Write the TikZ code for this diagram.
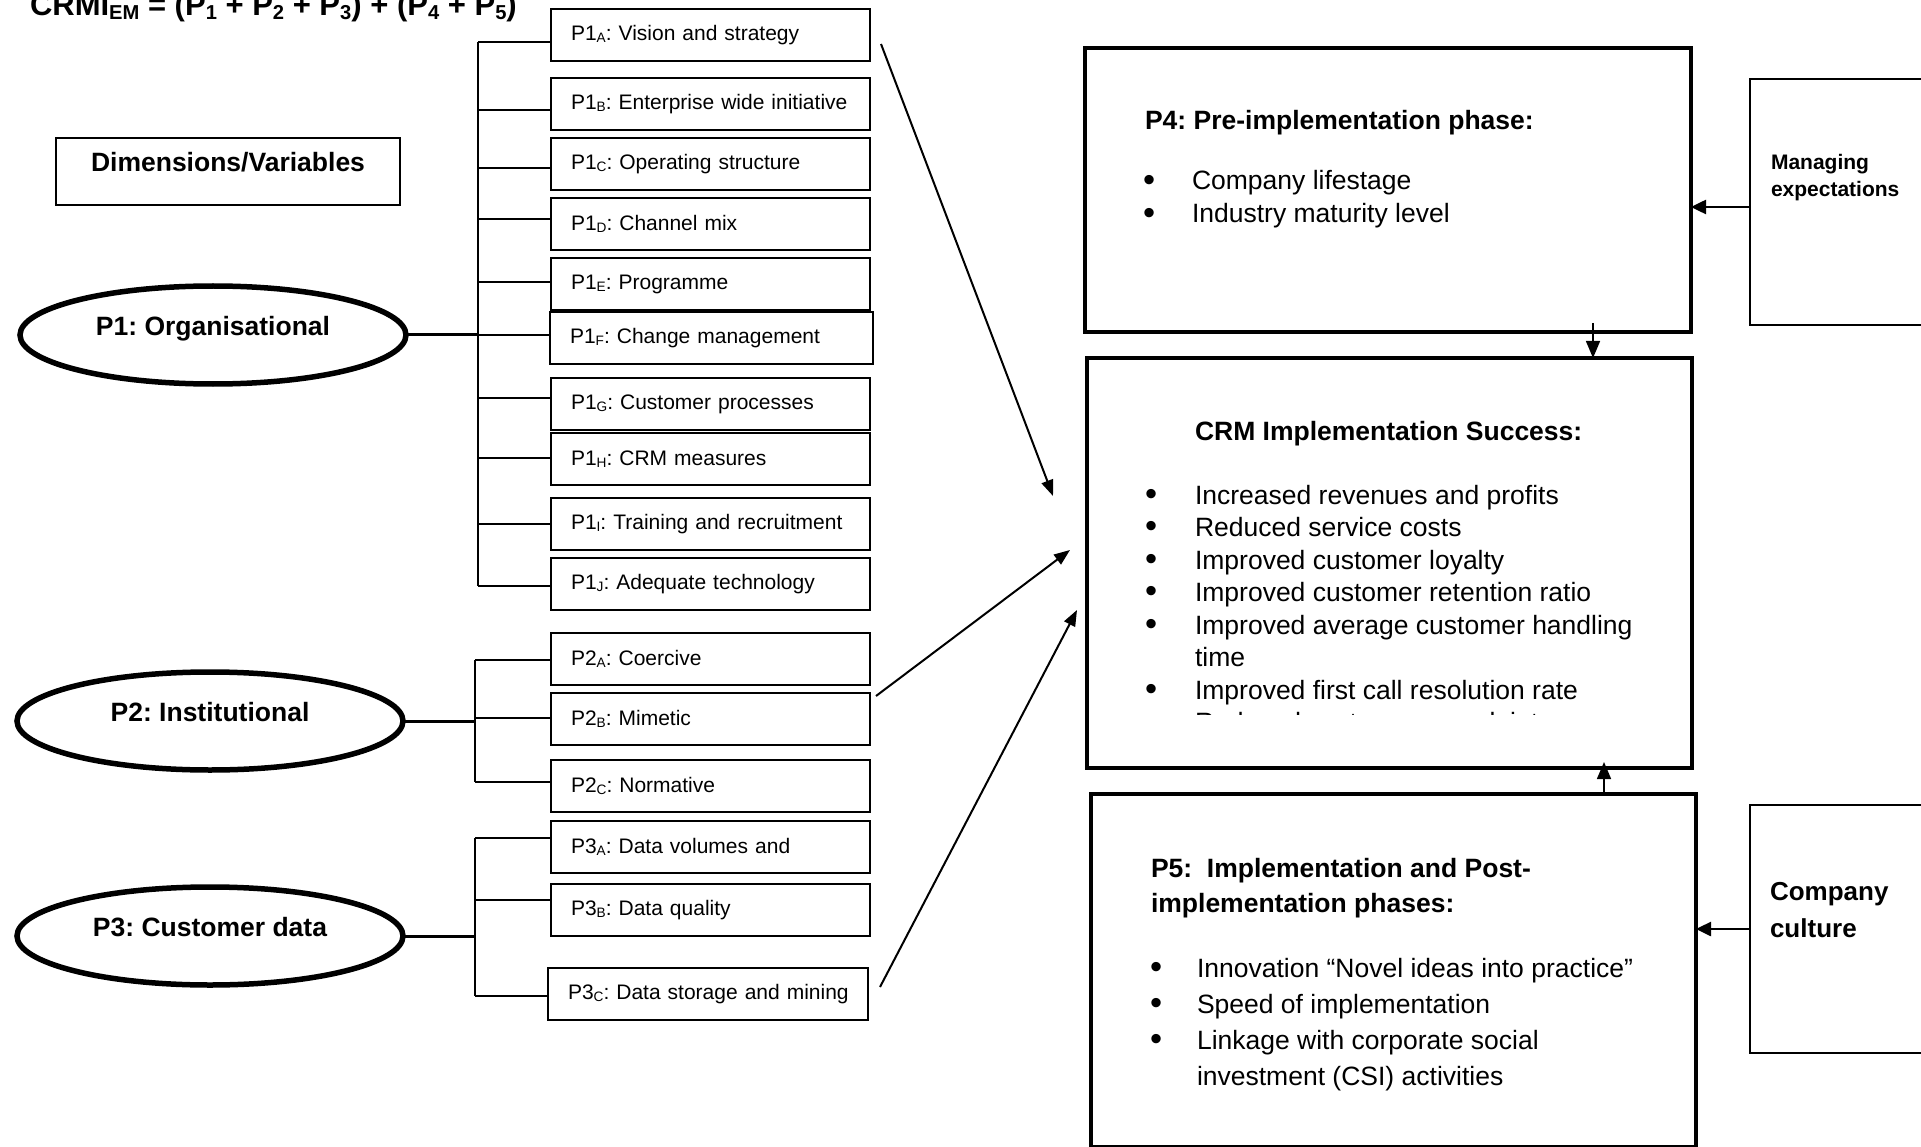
\documentclass[tikz,border=0pt]{standalone}
\usepackage{fontspec}
\setmainfont{Liberation Sans}
\usepackage{graphicx}
\usetikzlibrary{shapes.geometric,arrows.meta,calc}
\frenchspacing

% lowered, reduced subscript letters as used in the variable labels
\newcommand\sbs[1]{\raisebox{-0.12em}{\scalebox{0.65}{#1}}}
% font size / line spacing in points
\newcommand\setfs[2]{\fontsize{#1pt}{#2pt}\selectfont}
% left indent of the variable labels inside their boxes
\newcommand\boxindent{\hspace*{12pt}}
% list bullet
\newcommand\bul{\raisebox{-0.04em}{\scalebox{1.3}{\textbullet}}}

\tikzset{
  every node/.style={inner sep=0pt, outer sep=0pt},
  sbox/.style={draw, line width=1.8pt, anchor=north west, minimum width=319pt,
    minimum height=52pt, inner xsep=8pt, text width=303pt, align=left,
    font=\setfs{21}{25}},
  oval/.style={ellipse, draw, line width=5.5pt, minimum width=386pt, minimum height=98pt},
  ovaltext/.style={anchor=base, font=\bfseries\setfs{26.5}{32}},
  bigbox/.style={draw, line width=4.5pt, anchor=north west},
  sidebox/.style={draw, line width=2pt, anchor=north west},
  conn/.style={line width=1.8pt},
  ovallink/.style={line width=3pt},
  arr/.style={line width=2pt, -{Triangle[length=16pt, width=12pt]}},
  sidearr/.style={line width=2.6pt, -{Triangle[length=15pt, width=14pt]}},
  vertarr/.style={line width=1.6pt, -{Triangle[length=17pt, width=14pt]}},
  heading/.style={anchor=base west, font=\bfseries\setfs{26.5}{32}},
}

\begin{document}
\begin{tikzpicture}[x=1pt, y=-1pt]
\useasboundingbox (0,0) rectangle (1921,1147);
\clip (0,0) rectangle (1921,1147);

% ---------- formula and legend ----------
\node[anchor=base west, font=\bfseries\setfs{31}{36}] (formula) at (30,16)
  {CRMI\sbs{EM} = (P\sbs{1} + P\sbs{2} + P\sbs{3}) + (P\sbs{4} + P\sbs{5})};
\node[sidebox, minimum width=344pt, minimum height=67pt] (dim) at (56,138) {};
\node[anchor=base, font=\bfseries\setfs{26.5}{32}] (dimtxt) at ($(dim.north)+(0,34)$) {Dimensions/Variables};

% ---------- dimension ovals ----------
\node[oval] (e1) at (213,335) {};
\node[ovaltext] (e1t) at (e1.center) {P1: Organisational};
\node[oval] (e2) at (210,721) {};
\node[ovaltext] (e2t) at (e2.center) {P2: Institutional};
\node[oval] (e3) at (210,936) {};
\node[ovaltext] (e3t) at (e3.center) {P3: Customer data};

% ---------- variable boxes ----------
\node[sbox] (p1a) at (551,9)   {\boxindent P1\sbs{A}: Vision and strategy};
\node[sbox] (p1b) at (551,78)  {\boxindent P1\sbs{B}: Enterprise wide initiative};
\node[sbox] (p1c) at (551,138) {\boxindent P1\sbs{C}: Operating structure};
\node[sbox] (p1d) at (551,198) {\boxindent P1\sbs{D}: Channel mix};
\node[sbox] (p1e) at (551,258) {\boxindent P1\sbs{E}: Programme};
\node[sbox, minimum width=323pt, text width=307pt] (p1f) at (550,312) {\boxindent P1\sbs{F}: Change management};
\node[sbox] (p1g) at (551,378) {\boxindent P1\sbs{G}: Customer processes};
\node[sbox] (p1h) at (551,433) {\boxindent P1\sbs{H}: CRM measures};
\node[sbox] (p1i) at (551,498) {\boxindent P1\sbs{I}: Training and recruitment};
\node[sbox] (p1j) at (551,558) {\boxindent P1\sbs{J}: Adequate technology};

\node[sbox] (p2a) at (551,633) {\boxindent P2\sbs{A}: Coercive};
\node[sbox] (p2b) at (551,693) {\boxindent P2\sbs{B}: Mimetic};
\node[sbox] (p2c) at (551,760) {\boxindent P2\sbs{C}: Normative};

\node[sbox] (p3a) at (551,821) {\boxindent P3\sbs{A}: Data volumes and};
\node[sbox] (p3b) at (551,884) {\boxindent P3\sbs{B}: Data quality};
\node[sbox, minimum width=320pt, text width=304pt] (p3c) at (548,968) {\boxindent P3\sbs{C}: Data storage and mining};

% ---------- bracket buses ----------
\coordinate (b1a) at (478,42);  \coordinate (b1b) at (478,110);
\coordinate (b1c) at (478,168); \coordinate (b1d) at (478,219);
\coordinate (b1e) at (478,282); \coordinate (b1f) at (478,335);
\coordinate (b1g) at (478,398); \coordinate (b1h) at (478,458);
\coordinate (b1i) at (478,524); \coordinate (b1j) at (478,586);

\coordinate (b2a) at (475,660); \coordinate (b2b) at (475,718);
\coordinate (b2c) at (475,782);
\coordinate (b3a) at (475,838); \coordinate (b3b) at (475,900);
\coordinate (b3c) at (475,996);

\draw[conn] (b1a) -- (b1j);
\foreach \k in {a,b,c,d,e,f,g,h,i,j}
  \draw[conn] (b1\k) -- (b1\k -| p1\k.west);
\draw[ovallink] (e1.east) -- (e1.east -| b1a);

\draw[conn] (b2a) -- (b2c);
\foreach \k in {a,b,c}
  \draw[conn] (b2\k) -- (b2\k -| p2\k.west);
\draw[ovallink] (e2.east) -- (e2.east -| b2a);

\draw[conn] (b3a) -- (b3c);
\foreach \k in {a,b,c}
  \draw[conn] (b3\k) -- (b3\k -| p3\k.west);
\draw[ovallink] (e3.east) -- (e3.east -| b3a);

% ---------- phase boxes ----------
\node[bigbox, minimum width=606pt, minimum height=284pt] (p4) at (1085,48) {};
\node[bigbox, minimum width=605pt, minimum height=410pt] (crm) at (1087,358) {};
\node[bigbox, minimum width=605pt, minimum height=353pt] (p5) at (1091,794) {};
\node[sidebox, minimum width=260pt, minimum height=246pt] (me) at (1750,79) {};
\node[sidebox, minimum width=260pt, minimum height=248pt] (cc) at (1750,805) {};

% P4 contents
\node[heading] (p4t) at ($(p4.north west)+(60,82)$) {P4: Pre-implementation phase:};
\node[anchor=base west, font=\setfs{26.5}{33}] (p4l) at ($(p4.north west)+(58,142)$)
  {\begin{tabular}[t]{@{}p{49pt}@{}l@{}}
   \bul & Company lifestage\\
   \bul & Industry maturity level
   \end{tabular}};

% CRM success contents (list runs past the visible area of the box)
\node[heading] (crmt) at ($(crm.north west)+(108,82)$) {CRM Implementation Success:};
\begin{scope}
  \clip (crm.north west) rectangle ($(crm.north east)+(0,356)$);
  \node[anchor=base west, font=\setfs{26.5}{32.5}] (crml) at ($(crm.north west)+(58,146)$)
    {\begin{tabular}[t]{@{}p{50pt}@{}l@{}}
     \bul & Increased revenues and profits\\
     \bul & Reduced service costs\\
     \bul & Improved customer loyalty\\
     \bul & Improved customer retention ratio\\
     \bul & Improved average customer handling\\
          & time\\
     \bul & Improved first call resolution rate\\
     \bul & Reduced customer complaints
     \end{tabular}};
\end{scope}

% P5 contents
\node[anchor=base west, font=\bfseries\setfs{26.5}{35}] (p5t) at ($(p5.north west)+(60,83)$)
  {\begin{tabular}[t]{@{}l@{}}
   P5:~ Implementation and Post-\\
   implementation phases:
   \end{tabular}};
\node[anchor=base west, font=\setfs{26.5}{36}] (p5l) at ($(p5.north west)+(59,183)$)
  {\begin{tabular}[t]{@{}p{47pt}@{}l@{}}
   \bul & Innovation “Novel ideas into practice”\\
   \bul & Speed of implementation\\
   \bul & Linkage with corporate social\\
        & investment (CSI) activities
   \end{tabular}};

% side factors
\node[anchor=base west, font=\bfseries\setfs{21}{27}] (met) at ($(me.north west)+(21,91)$)
  {\begin{tabular}[t]{@{}l@{}}Managing\\expectations\end{tabular}};
\node[anchor=base west, font=\bfseries\setfs{26}{37}] (cct) at ($(cc.north west)+(20,95)$)
  {\begin{tabular}[t]{@{}l@{}}Company\\culture\end{tabular}};

% ---------- arrows ----------
\coordinate (t1) at (1053,496);
\coordinate (t2) at (1070,550);
\coordinate (t3) at (1077,610);
\draw[arr] ([shift={(11,9)}]p1a.east) -- (t1);
\draw[arr] ([shift={(6,3)}]p2b.north east) -- (t2);
\draw[arr] ([shift={(12,-7)}]p3c.east) -- (t3);

\coordinate (a4) at (1593,323);
\draw[vertarr] (a4) -- (a4 |- crm.north);
\coordinate (a5) at (1604,762);
\draw[vertarr] (a5 |- p5.north) -- (a5);

\draw[sidearr] ([yshift=-5pt]me.west) -- ([yshift=-5pt]me.west -| p4.east);
\draw[sidearr] (cc.west) -- (cc.west -| p5.east);
\end{tikzpicture}
\end{document}
